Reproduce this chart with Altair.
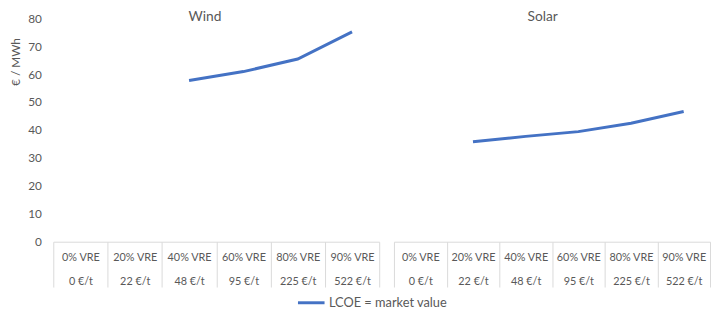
import altair as alt
import pandas as pd

categories = ["0% VRE|0 €/t", "20% VRE|22 €/t", "40% VRE|48 €/t",
              "60% VRE|95 €/t", "80% VRE|225 €/t", "90% VRE|522 €/t"]
wind_values = [None, None, 57.7, 60.9, 65.4, 75.1]
solar_values = [None, 35.8, 37.7, 39.4, 42.4, 46.6]
panel_names = ["Wind", "Solar"]
series_name = "LCOE = market value"
y_ticks = [0, 10, 20, 30, 40, 50, 60, 70, 80]

GREY = "#595959"
LINE = "#4472C4"
FONT = "Lato"


def panel(name, values, width, show_y, title_x):
    df = pd.DataFrame({"cat": categories, "value": values, "series": series_name}).dropna()
    x = alt.X(
        "cat:N",
        sort=categories,
        bandPosition=0.5,
        scale=alt.Scale(type="band", domain=categories, paddingInner=0, paddingOuter=0),
        axis=alt.Axis(
            title=None, labelAngle=0, labelExpr="split(datum.label, '|')",
            tickBand="extent", tickSize=46, tickColor="#d9d9d9", domainColor="#d9d9d9",
            labelPadding=-36, labelBaseline="top", labelLineHeight=24,
            labelFont=FONT, labelFontSize=11, labelColor=GREY,
        ),
    )
    if show_y:
        yaxis = alt.Axis(
            values=y_ticks, grid=False, domain=False, ticks=False, labelPadding=12,
            labelFont=FONT, labelFontSize=12, labelColor=GREY,
            title="€ / MWh", titleFont=FONT, titleFontSize=12, titleFontWeight="normal",
            titleColor=GREY, titleX=-31, titleY=44,
        )
    else:
        yaxis = None
    y = alt.Y("value:Q", scale=alt.Scale(domain=[0, 80]), axis=yaxis)
    line = alt.Chart(df).mark_line(strokeWidth=3).encode(
        x=x, y=y,
        color=alt.Color(
            "series:N", scale=alt.Scale(range=[LINE]),
            legend=alt.Legend(
                orient="none", legendX=247, legendY=274, direction="horizontal",
                title=None, symbolType="stroke", symbolStrokeWidth=3, symbolSize=729,
                labelFont=FONT, labelFontSize=13, labelColor=GREY, labelOffset=3,
            ),
        ),
    )
    title = alt.Chart(pd.DataFrame({"t": [name]})).mark_text(
        font=FONT, fontSize=14, color=GREY, baseline="middle", align="center"
    ).encode(text="t:N", x=alt.value(title_x), y=alt.value(-1))
    return alt.layer(line, title).properties(width=width, height=227)


left = panel(panel_names[0], wind_values, 331, True, 154)
right = panel(panel_names[1], solar_values, 321, False, 151)

chart = alt.hconcat(left, right, spacing=13).properties(
    padding={"left": 2, "top": 0, "right": 0, "bottom": 0}
).configure(font=FONT).configure_view(stroke=None)

chart.save("out.html", embed_options={"renderer": "svg", "actions": False})
